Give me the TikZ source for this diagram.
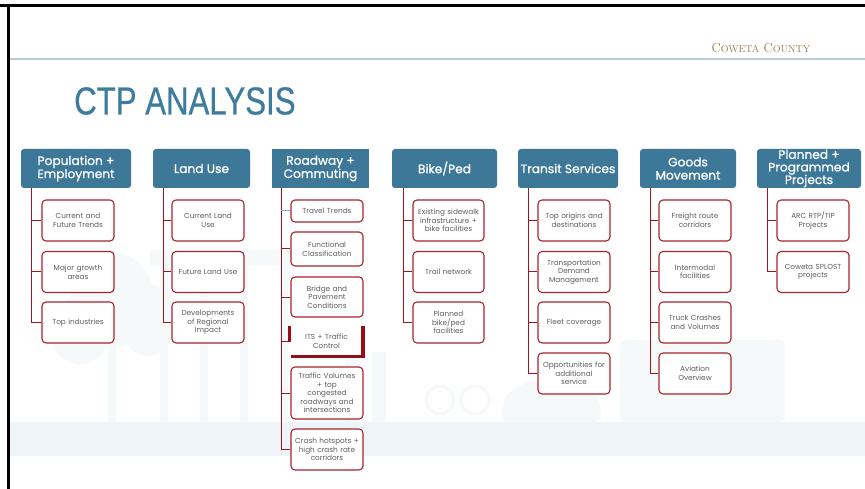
\documentclass[tikz,border=0pt]{standalone}
\usepackage{fontspec}
\newfontfamily\headfont{Poppins}
\newfontfamily\headfontsb[FakeBold=0.9]{Poppins}
\newfontfamily\titlefont[FakeStretch=0.8,FakeBold=0.6]{Liberation Sans}
\definecolor{hdrblue}{HTML}{3D7899}
\definecolor{ttlblue}{HTML}{3E7C9D}
\definecolor{boxred}{HTML}{A8232E}
\definecolor{linkred}{HTML}{A0141E}
\definecolor{itsred}{HTML}{980E16}
\definecolor{txtgray}{HTML}{5E5E5E}
\definecolor{rule}{HTML}{B9C9D3}
\definecolor{haze}{HTML}{EEF4F7}
\definecolor{ghost}{HTML}{F6F9FA}
\definecolor{gold}{HTML}{9E7C4E}
\tikzset{
  hdr/.style={fill=hdrblue, text=white, rounded corners=3pt, inner sep=0pt,
    minimum height=39pt, align=center,
    font=\headfontsb\fontsize{12.2}{13.2}\selectfont},
  item/.style={draw=boxred, line width=1.1pt, fill=white, rounded corners=4pt,
    text=txtgray, inner sep=0pt, minimum width=72pt, text width=70pt, align=center,
    font=\headfont\fontsize{7.3}{8.6}\selectfont},
  link/.style={draw=linkred, line width=1pt},
  itsbar/.style={draw=itsred, line width=3.6pt}
}
\begin{document}
\begin{tikzpicture}[x=1pt,y=-1pt]
\useasboundingbox (0,0) rectangle (865,489);
\fill[white] (0,0) rectangle (865,489);

% faint street scene behind the chart
\begin{scope}[ghost]
  \fill (112,300) ellipse (42 and 48);
  \fill (80,330) ellipse (30 and 34);
  \fill (148,320) ellipse (28 and 36);
  \fill (108,330) rectangle (116,422);
  \fill (150,250) rectangle (300,265);
  \foreach \cx in {160,200,240,280} \fill (\cx,265) rectangle (\cx+8,422);
  \fill (345,360) rectangle (360,422);
  \fill (372,352) rectangle (386,422);
  \draw[line width=3pt] (440,400) circle (14);
  \draw[line width=3pt] (475,400) circle (14);
  \fill[rounded corners=8pt] (500,422) -- (505,395) -- (530,380) -- (580,380) -- (600,400) -- (602,422) -- cycle;
  \fill[rounded corners=6pt] (620,422) rectangle (785,340);
\end{scope}
\fill[haze] (8,422) rectangle (865,456);

% slide frame, header rule and county mark
\fill[black] (0,4) rectangle (865,7);
\fill[black] (7,4) rectangle (10,489);
\draw[rule, line width=1.2pt] (10,59) -- (865,59);
\node[text=gold, inner sep=0pt, font=\fontsize{13}{13}\selectfont] (county) at (761,48)
  {C{\fontsize{10}{10}\selectfont OWETA} C{\fontsize{10}{10}\selectfont OUNTY}};
\node[text=ttlblue, inner sep=0pt, anchor=west, font=\titlefont\fontsize{39}{39}\selectfont] (title) at (74,101) {CTP ANALYSIS};

% column headings
\node[hdr, minimum width=110pt] (h1) at (76,168.5) {Population +\\Employment};
\node[hdr, minimum width=97pt] (h2) at (201.5,168.5) {Land Use};
\node[hdr, minimum width=97pt, rounded corners=0pt] (h3) at (320.5,168.5) {Roadway +\\Commuting};
\node[hdr, minimum width=105pt] (h4) at (444.5,168.5) {Bike/Ped};
\node[hdr, minimum width=100pt] (h5) at (568,168.5) {Transit Services};
\node[hdr, minimum width=96pt] (h6) at (688,168.5) {Goods\\Movement};
\node[hdr, minimum width=104pt, font=\headfontsb\fontsize{12.2}{12.6}\selectfont] (h7) at (809,168.5) {Planned +\\Programmed\\Projects};

% Population + Employment
\node[item, minimum height=41pt] (a1) at (78,220.5) {Current and\\Future Trends};
\node[item, minimum height=41pt] (a2) at (78,272) {Major growth\\areas};
\node[item, minimum height=41pt] (a3) at (78,322.5) {Top industries};
\coordinate (a0) at (31,188);
\draw[link] (a0) |- (a3.west);
\foreach \n in {a1,a2} \draw[link] (a0 |- \n.west) -- (\n.west);

% Land Use
\node[item, minimum height=41pt] (b1) at (208,220.5) {Current Land\\Use};
\node[item, minimum height=41pt] (b2) at (208,272) {Future Land Use};
\node[item, minimum height=41pt] (b3) at (208,322.5) {Developments\\of Regional\\Impact};
\coordinate (b0) at (163,188);
\draw[link] (b0) |- (b3.west);
\foreach \n in {b1,b2} \draw[link] (b0 |- \n.west) -- (\n.west);

% Roadway + Commuting
\node[item, minimum height=22pt] (c1) at (327,211) {Travel Trends};
\node[item, minimum height=34pt] (c2) at (327,249) {Functional\\Classification};
\node[item, minimum height=40pt] (c3) at (327,297) {Bridge and\\Pavement\\Conditions};
\node[item, draw=none, minimum width=70pt, minimum height=29pt] (c4) at (326.5,341.5) {ITS + Traffic\\Control};
\node[item, minimum height=52pt] (c5) at (327,393) {Traffic Volumes\\+ top\\congested\\roadways and\\intersections};
\node[item, minimum height=41pt] (c6) at (327,449.5) {Crash hotspots +\\high crash rate\\corridors};
\draw[itsbar] ([xshift=-1.5pt]c4.north west) -- ([xshift=-1.5pt]c4.west);
\draw[itsbar] ([xshift=1pt]c4.north east) -- ([xshift=1pt,yshift=1.8pt]c4.south east);
\draw[itsbar] (c4.south west) -- ([xshift=2.8pt]c4.south east);
\coordinate (c0) at (281,188);
\draw[link] (c0) |- (c6.west);
\draw[draw=rule!80!blue, line width=1pt] (c0 |- c1.west) -- (c1.west);
\foreach \n in {c2,c3,c5} \draw[link] (c0 |- \n.west) -- (\n.west);
\draw[link] (c0 |- c4.west) -- ([xshift=-3pt]c4.west);

% Bike/Ped
\node[item, minimum width=71pt, minimum height=41pt] (d1) at (448.5,220.5) {Existing sidewalk\\infrastructure +\\bike facilities};
\node[item, minimum width=71pt, minimum height=41pt] (d2) at (448.5,272) {Trail network};
\node[item, minimum width=71pt, minimum height=41pt] (d3) at (448.5,322.5) {Planned\\bike/ped\\facilities};
\coordinate (d0) at (403,188);
\draw[link] (d0) |- (d3.west);
\foreach \n in {d1,d2} \draw[link] (d0 |- \n.west) -- (\n.west);

% Transit Services
\node[item, minimum height=41pt] (e1) at (574,220.5) {Top origins and\\destinations};
\node[item, minimum height=41pt] (e2) at (574,272) {Transportation\\Demand\\Management};
\node[item, minimum height=41pt] (e3) at (574,322.5) {Fleet coverage};
\node[item, minimum height=41pt] (e4) at (574,373.5) {Opportunities for\\additional\\service};
\coordinate (e0) at (528,188);
\draw[link] (e0) |- (e4.west);
\foreach \n in {e1,e2,e3} \draw[link] (e0 |- \n.west) -- (\n.west);

% Goods Movement
\node[item, minimum height=41pt] (f1) at (695,220.5) {Freight route\\corridors};
\node[item, minimum height=41pt] (f2) at (695,272) {Intermodal\\facilities};
\node[item, minimum height=41pt] (f3) at (695,322.5) {Truck Crashes\\and Volumes};
\node[item, minimum height=41pt] (f4) at (695,373.5) {Aviation\\Overview};
\coordinate (f0) at (650,188);
\draw[link] (f0) |- (f4.west);
\foreach \n in {f1,f2,f3} \draw[link] (f0 |- \n.west) -- (\n.west);

% Planned + Programmed Projects
\node[item, minimum height=41pt] (g1) at (813,220.5) {ARC RTP/TIP\\Projects};
\node[item, minimum height=41pt] (g2) at (813,272) {Coweta SPLOST\\projects};
\coordinate (g0) at (767,188);
\draw[link] (g0) |- (g2.west);
\draw[link] (g0 |- g1.west) -- (g1.west);
\end{tikzpicture}
\end{document}
